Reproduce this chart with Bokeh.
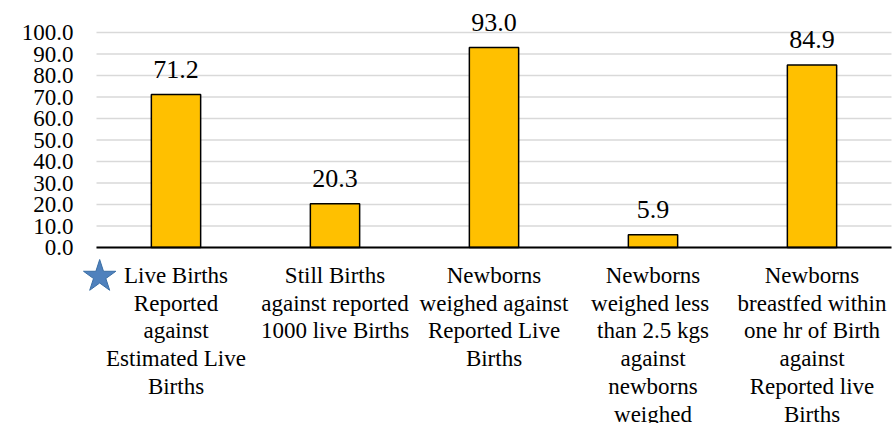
from bokeh.plotting import figure
from bokeh.models import Range1d, ColumnDataSource
from bokeh.core.properties import value
from bokeh.embed import file_html
from bokeh.resources import INLINE

categories = [
    "Live Births\nReported\nagainst\nEstimated Live\nBirths",
    "Still Births\nagainst reported\n1000 live Births",
    "Newborns\nweighed against\nReported Live\nBirths",
    "Newborns\nweighed  less\nthan 2.5 kgs\nagainst\nnewborns\nweighed",
    "Newborns\nbreastfed within\none hr of Birth\nagainst\nReported live\nBirths",
]
values = [71.2, 20.3, 93.0, 5.9, 84.9]
y_ticks = [0, 10, 20, 30, 40, 50, 60, 70, 80, 90, 100]

FONT = "Times New Roman"

n = len(categories)
xs = [i + 0.5 for i in range(n)]
src = ColumnDataSource(dict(
    x=xs,
    top=values,
    lbl=[f"{v:.1f}" for v in values],
))
tick_src = ColumnDataSource(dict(
    y=y_ticks,
    x0=[0] * len(y_ticks),
    x1=[n] * len(y_ticks),
    lbl=[f"{t:.1f}" for t in y_ticks],
))

# category labels: one row per text line
FIRST_LINE = 28.0   # px offset below the zero line for the first line
LINE_STEP = 27.7    # px between lines
lx, ly, lt, loff = [], [], [], []
for cx, cat in zip(xs, categories):
    for j, line in enumerate(cat.split("\n")):
        lx.append(cx)
        ly.append(0)
        lt.append(line)
        loff.append(FIRST_LINE + j * LINE_STEP)
cat_src = ColumnDataSource(dict(x=lx, y=ly, t=lt, off=loff))

W, H = 893, 423
LEFT = 96      # pixel column where the category axis starts
ZERO_Y = 247   # pixel row of the value 0
PX_X = 159.0   # pixels per category
PX_Y = 2.15    # pixels per unit

p = figure(width=W, height=H, output_backend="svg", toolbar_location=None,
           x_axis_type=None, y_axis_type=None,
           x_range=Range1d(-LEFT / PX_X, (W - LEFT) / PX_X),
           y_range=Range1d(-(H - ZERO_Y) / PX_Y, ZERO_Y / PX_Y),
           min_border_left=0, min_border_right=0, min_border_top=0, min_border_bottom=0)
p.outline_line_color = None
p.grid.visible = False

# gridlines
p.segment(x0="x0", y0="y", x1="x1", y1="y", source=tick_src,
          line_color="#d9d9d9", line_width=1.5)

# y tick labels
p.text(x="x0", y="y", text="lbl", source=tick_src, text_font=value(FONT),
       text_font_size="23px", text_align="right", text_baseline="middle",
       x_offset=-23, text_color="black")

# bars
p.vbar(x="x", top="top", width=0.31, bottom=0, source=src,
       fill_color="#FFC000", line_color="black", line_width=1.5)

# baseline
p.segment(x0=[0], y0=[0], x1=[n], y1=[0], line_color="black", line_width=2)

# value labels
p.text(x="x", y="top", text="lbl", source=src, text_font=value(FONT),
       text_font_size="26px", text_align="center", text_baseline="alphabetic",
       y_offset=-25, text_color="black")

# category labels
p.text(x="x", y="y", text="t", source=cat_src, text_font=value(FONT),
       text_font_size="23px", text_align="center", text_baseline="alphabetic",
       y_offset="off", text_color="black")

# star icon beside the first category label
star_x = [xs[0] - 0.48]
star_y = [-13.5]
p.scatter(x=star_x, y=star_y, marker="star", size=34,
          fill_color="#4F81BD", line_color="#3A6EA5", line_width=1)

open("out.html", "w").write(file_html(p, INLINE))
